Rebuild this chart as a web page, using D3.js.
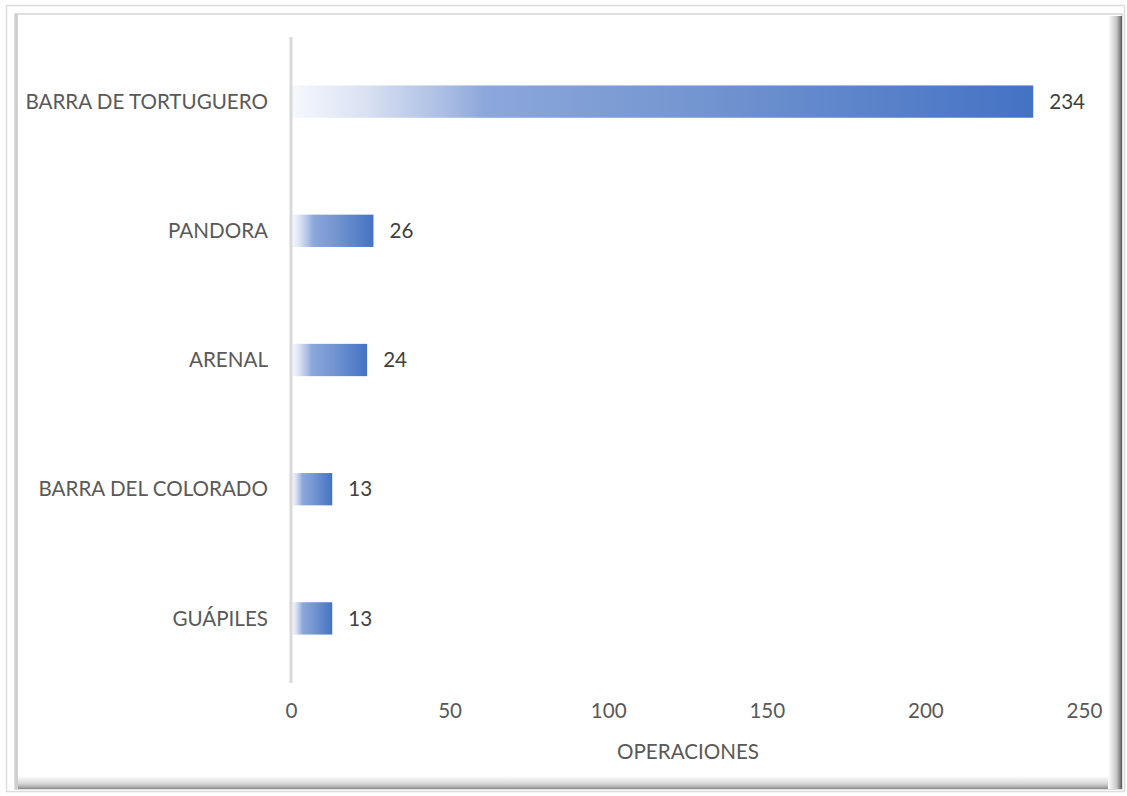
<!DOCTYPE html>
<html><head><meta charset="utf-8">
<script src="https://cdn.jsdelivr.net/npm/d3@7"></script>
<style>html,body{margin:0;padding:0;background:#fff;}svg{display:block;}</style>
</head><body>
<script>
const categories = ["BARRA DE TORTUGUERO","PANDORA","ARENAL","BARRA DEL COLORADO","GUÁPILES"];
const values = [234, 26, 24, 13, 13];
const xTicks = [0, 50, 100, 150, 200, 250];
const axisTitle = "OPERACIONES";

const W = 1127, H = 796;
const font = "Lato, 'Open Sans', sans-serif";
const fs = 20.6;
const txt = "#595959";
const svg = d3.select("body").append("svg").attr("width", W).attr("height", H);
const defs = svg.append("defs");

const bg = defs.append("linearGradient").attr("id","barGrad").attr("x1","0").attr("x2","1").attr("y1","0").attr("y2","0");
[[0,"#f6f8fd"],[0.1,"#d9e1f2"],[0.22,"#a3b8e1"],[0.26,"#8ca7db"],[0.55,"#7395d0"],[1,"#4472c4"]].forEach(([o,c])=>bg.append("stop").attr("offset",o).attr("stop-color",c));

const gr = defs.append("linearGradient").attr("id","shR").attr("x1","0").attr("x2","1").attr("y1","0").attr("y2","0");
[[0,"#ffffff"],[0.6,"#c8c8c8"],[0.85,"#888"],[1,"#555"]].forEach(([o,c])=>gr.append("stop").attr("offset",o).attr("stop-color",c));
const gb = defs.append("linearGradient").attr("id","shB").attr("x1","0").attr("x2","0").attr("y1","0").attr("y2","1");
[[0,"#ffffff"],[0.6,"#d6d6d6"],[0.85,"#ababab"],[1,"#8a8a8a"]].forEach(([o,c])=>gb.append("stop").attr("offset",o).attr("stop-color",c));

// frames
svg.append("rect").attr("x",6.5).attr("y",5.5).attr("width",1118).attr("height",786).attr("fill","none").attr("stroke","#dcdcdc").attr("stroke-width",1.5);
svg.append("rect").attr("x",15).attr("y",14).attr("width",1107).attr("height",775).attr("fill","#fff").attr("stroke","#d4d4d4").attr("stroke-width",1.5);
svg.append("rect").attr("x",15).attr("y",776).attr("width",1107).attr("height",13).attr("fill","url(#shB)");
svg.append("rect").attr("x",1108).attr("y",16).attr("width",14).attr("height",773).attr("fill","url(#shR)");
svg.append("rect").attr("x",15).attr("y",14).attr("width",3).attr("height",775).attr("fill","#cfcfcf");

const x = d3.scaleLinear().domain([0,250]).range([291,1084]);
const y = d3.scaleBand().domain(categories).range([37,683]).paddingInner(0.75).paddingOuter(0.375);

// bars
svg.append("g").selectAll("rect").data(categories).join("rect")
  .attr("x", x(0)+1).attr("y", d=>y(d)).attr("height", y.bandwidth())
  .attr("width", (d,i)=>x(values[i])-x(0)-1).attr("fill","url(#barGrad)");

// vertical axis line
svg.append("line").attr("x1",x(0)).attr("x2",x(0)).attr("y1",37).attr("y2",683).attr("stroke","#d9d9d9").attr("stroke-width",3);

// category labels
svg.append("g").selectAll("text").data(categories).join("text")
  .attr("x", x(0)-23).attr("y", d=>y(d)+y.bandwidth()/2).attr("dy","0.35em")
  .attr("text-anchor","end").attr("font-family",font).attr("font-size",fs).attr("fill",txt).text(d=>d);

// value labels
svg.append("g").selectAll("text").data(categories).join("text")
  .attr("x", (d,i)=>x(values[i])+16).attr("y", d=>y(d)+y.bandwidth()/2).attr("dy","0.35em")
  .attr("font-family",font).attr("font-size",fs).attr("fill","#404040").text((d,i)=>values[i]);

// x axis
const ax = svg.append("g").attr("transform","translate(0,703)")
  .call(d3.axisBottom(x).tickValues(xTicks).tickSize(0).tickPadding(0).tickFormat(d3.format("d")));
ax.select(".domain").remove();
ax.selectAll("text").attr("font-family",font).attr("font-size",fs).attr("fill",txt).attr("dy","0.71em");

svg.append("text").attr("x",688).attr("y",752).attr("dy","0.35em").attr("text-anchor","middle")
  .attr("font-family",font).attr("font-size",fs).attr("fill",txt).text(axisTitle);
</script>
</body></html>
